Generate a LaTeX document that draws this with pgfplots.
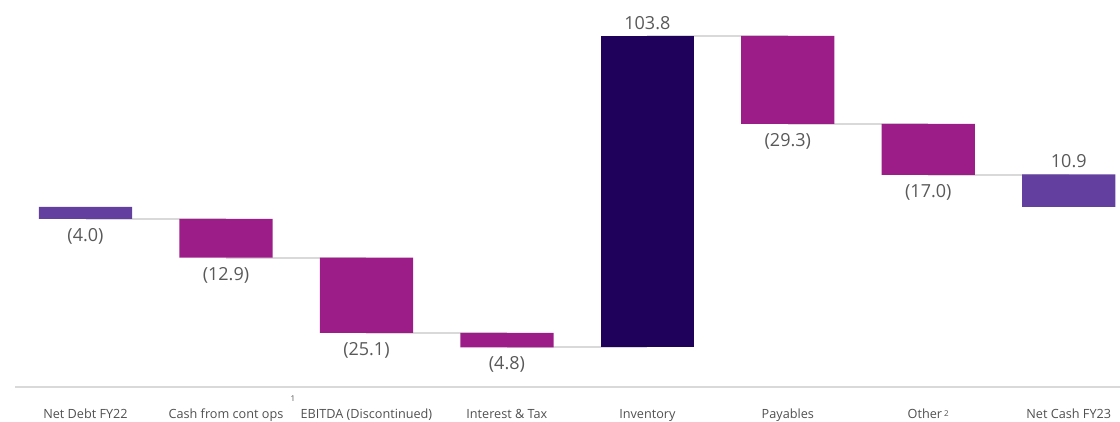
\documentclass[border=0pt]{standalone}
\usepackage{pgfplots}
\pgfplotsset{compat=1.18}
\usepackage{pgfplotstable}
\usepackage{fontspec}
\setmainfont{Open Sans}
\definecolor{cpurple}{HTML}{6340A0}
\definecolor{cmagenta}{HTML}{9C1D87}
\definecolor{cnavy}{HTML}{1F005A}
\definecolor{cline}{HTML}{D9D9D9}
\definecolor{ctext}{HTML}{595959}
\definecolor{ctick}{HTML}{505050}

\pgfplotstableread{
x base purple magenta navy
0 0 -4.0 0 0
1 -4.0 0 -12.9 0
2 -16.9 0 -25.1 0
3 -42.0 0 -4.8 0
4 -46.8 0 0 103.8
5 57.0 0 -29.3 0
6 27.7 0 -17.0 0
7 0 10.9 0 0
}\bars

\pgfplotsset{
  wfall/.style={
    scale only axis,
    width=828.75pt, height=290.25pt,
    xmin=-0.502, xmax=7.365,
    ymin=-60, ymax=69,
    clip=false,
  }
}

\begin{document}
\begin{tikzpicture}
% axis with baseline, ticks, connectors and value labels
\begin{axis}[wfall,
  axis x line*=bottom,
  axis y line=none,
  x axis line style={draw=cline, line width=1.5pt, -},
  xtick={0,...,7},
  xticklabels={Net Debt FY22, Cash from cont ops, EBITDA (Discontinued), Interest \& Tax, Inventory, Payables, {Other\,\raisebox{0.25ex}{\fontsize{6}{6}\selectfont 2}}, Net Cash FY23},
  major tick length=0pt,
  xticklabel style={font=\fontsize{9.5}{11}\selectfont, text=ctick, anchor=base, yshift=-23.5pt},
  ytick=\empty,
]
% connectors
\addplot [cline, line width=1.5pt] coordinates {(0,-4.0) (1,-4.0)};
\addplot [cline, line width=1.5pt] coordinates {(1,-16.9) (2,-16.9)};
\addplot [cline, line width=1.5pt] coordinates {(2,-42.0) (3,-42.0)};
\addplot [cline, line width=1.5pt] coordinates {(3,-46.8) (4,-46.8)};
\addplot [cline, line width=1.5pt] coordinates {(4,57.0) (5,57.0)};
\addplot [cline, line width=1.5pt] coordinates {(5,27.7) (6,27.7)};
\addplot [cline, line width=1.5pt] coordinates {(6,10.7) (7,10.7)};
% labels below bars
\addplot [draw=none, mark=none, nodes near coords, point meta=explicit symbolic,
  every node near coord/.style={anchor=center, yshift=-13pt, text=ctext, font=\fontsize{13.5}{16}\selectfont}]
  table [meta=lab] {
x y lab
0 -4.0 (4.0)
1 -16.9 (12.9)
2 -42.0 (25.1)
3 -46.8 (4.8)
5 27.7 (29.3)
6 10.7 (17.0)
};
% labels above bars
\addplot [draw=none, mark=none, nodes near coords, point meta=explicit symbolic,
  every node near coord/.style={anchor=center, yshift=10pt, text=ctext, font=\fontsize{13.5}{16}\selectfont}]
  table [meta=lab] {
x y lab
4 57.0 103.8
7 10.9 10.9
};
\node [text=ctick, font=\fontsize{6}{6}\selectfont] at (axis cs:1.477,-60) [yshift=-9pt] {1};
\end{axis}
% waterfall bars
\begin{axis}[wfall, hide axis, ybar stacked, stack negative=on previous, bar width=0.664]
\addplot [draw=none, fill=none] table [x=x, y=base] {\bars};
\addplot [draw=none, fill=cpurple] table [x=x, y=purple] {\bars};
\addplot [draw=none, fill=cmagenta] table [x=x, y=magenta] {\bars};
\addplot [draw=none, fill=cnavy] table [x=x, y=navy] {\bars};
\end{axis}
\pgfresetboundingbox
\path (-11.25pt,-25.5pt) rectangle (828.75pt,290.25pt);
\end{tikzpicture}
\end{document}
